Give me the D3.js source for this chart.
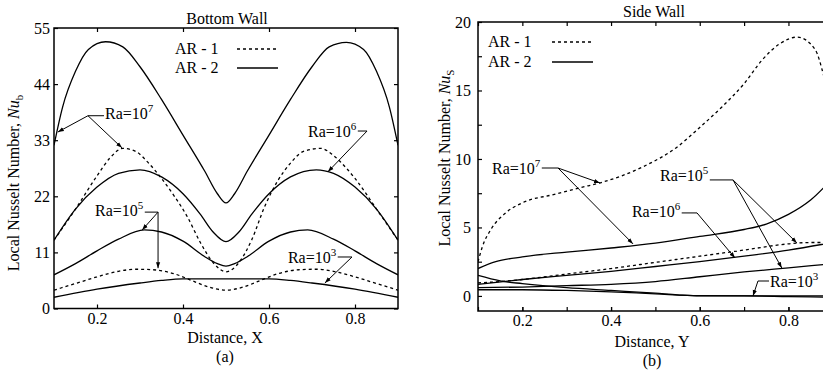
<!DOCTYPE html>
<html><head><meta charset="utf-8">
<script src="https://cdn.jsdelivr.net/npm/d3@7"></script>
<style>
body{margin:0;background:#fff;overflow:hidden}
text{font-family:"Liberation Serif","DejaVu Serif","Times New Roman",serif;fill:#000}
</style>
</head><body>
<svg id="c" width="823" height="370" xmlns="http://www.w3.org/2000/svg"></svg>
<script>
// ---------------- DATA ----------------
// Panel (a): Bottom wall, Local Nusselt number vs X
const bX_ra7_ar2 = [0.1,0.12,0.15,0.18,0.22,0.26,0.3,0.35,0.4,0.45,0.48,0.5,0.52,0.55,0.6,0.65,0.7,0.74,0.78,0.82,0.85,0.88,0.9];
const bY_ra7_ar2 = [32,39.5,46.5,50.8,52.3,51.3,47.4,41,34,27,22.5,20.7,22.5,27,34,41,47.4,51.3,52.2,50.8,46.5,39.5,32];

const bX_ra7_ar1 = [0.1,0.15,0.2,0.23,0.26,0.29,0.32,0.35,0.38,0.41,0.44,0.47,0.5,0.53,0.56,0.59,0.62,0.65,0.68,0.72,0.75,0.78,0.8,0.85,0.9];
const bY_ra7_ar1 = [13.4,19.5,26,29.5,31.4,30.8,28.5,25.5,22,18,13,9,7.2,9,13.5,20,25,28.5,30.8,31.4,30,27.5,25.5,19.5,13.4];

const bX_ra6_ar2 = [0.1,0.15,0.2,0.25,0.3,0.35,0.4,0.44,0.47,0.5,0.53,0.56,0.6,0.65,0.71,0.75,0.8,0.85,0.9];
const bY_ra6_ar2 = [13.4,19.5,23.8,26.5,27.2,25.8,22.5,18.5,15,13.1,15,18.5,22.5,25.8,27.2,26.5,23.8,19.5,13.4];

const bX_ra5_ar2 = [0.1,0.15,0.2,0.25,0.31,0.35,0.4,0.45,0.48,0.5,0.52,0.55,0.6,0.65,0.69,0.75,0.8,0.85,0.9];
const bY_ra5_ar2 = [6.6,8.8,11.3,13.6,15.4,15.0,13.2,10.2,8.8,8.3,8.8,10.2,13.2,15.0,15.4,13.6,11.3,8.8,6.6];

const bX_ra5_ar1 = [0.1,0.15,0.2,0.25,0.29,0.33,0.38,0.42,0.46,0.5,0.54,0.58,0.62,0.67,0.71,0.75,0.8,0.85,0.9];
const bY_ra5_ar1 = [3.6,4.9,6.2,7.3,7.7,7.6,6.8,5.5,4.2,3.6,4.2,5.5,6.8,7.6,7.7,7.3,6.2,4.9,3.6];

const bX_ra3_ar2 = [0.1,0.2,0.3,0.35,0.4,0.5,0.6,0.65,0.7,0.8,0.9];
const bY_ra3_ar2 = [2.2,3.8,5.0,5.5,5.8,5.8,5.8,5.5,5.0,3.8,2.2];

// Panel (b): Side wall, Local Nusselt number vs Y
const sX_ra7_ar1 = [0.1,0.11,0.13,0.16,0.2,0.27,0.33,0.38,0.47,0.55,0.6,0.65,0.7,0.74,0.78,0.82,0.86,0.88,0.9];
const sY_ra7_ar1 = [2.5,3.6,4.9,6.0,6.8,7.4,7.9,8.3,9.4,10.9,12.3,13.8,15.5,17.2,18.4,18.9,18.0,16.0,13.0];

const sX_ra7_ar2 = [0.1,0.14,0.2,0.3,0.4,0.5,0.6,0.7,0.75,0.8,0.85,0.9];
const sY_ra7_ar2 = [2.0,2.5,2.85,3.2,3.5,3.85,4.35,4.85,5.25,5.95,7.0,8.6];

const sX_ra5_ar1 = [0.1,0.15,0.2,0.3,0.4,0.5,0.6,0.7,0.8,0.85,0.9];
const sY_ra5_ar1 = [0.95,1.05,1.2,1.6,2.0,2.45,2.9,3.35,3.8,3.9,3.9];

const sX_ra6_ar2 = [0.1,0.2,0.3,0.4,0.5,0.6,0.7,0.8,0.9];
const sY_ra6_ar2 = [0.85,1.2,1.5,1.8,2.15,2.5,2.9,3.35,3.9];

const sX_ra5_ar2 = [0.1,0.2,0.3,0.4,0.5,0.6,0.7,0.8,0.9];
const sY_ra5_ar2 = [0.6,0.65,0.75,0.85,1.05,1.4,1.75,2.05,2.35];

const sX_ra3_a = [0.1,0.15,0.2,0.3,0.4,0.5,0.55,0.6,0.7,0.8,0.9];
const sY_ra3_a = [1.5,1.1,0.9,0.6,0.4,0.2,0.08,0.0,0.0,-0.05,-0.1];

const sX_ra3_b = [0.1,0.2,0.3,0.4,0.5,0.6,0.9];
const sY_ra3_b = [0.45,0.45,0.4,0.3,0.15,0.02,0.0];

// Axis ticks
const bTickX = [0.2,0.4,0.6,0.8];
const bTickY = [0,11,22,33,44,55];
const sTickX = [0.2,0.4,0.6,0.8];
const sMinorX = [0.1,0.2,0.3,0.4,0.5,0.6,0.7,0.8,0.9];
const sTickY = [0,5,10,15,20];
const sMinorY = [2.5,7.5,12.5,17.5];

// Legend
const legendLabels = ["AR - 1","AR - 2"];

// Annotations (data coordinates): exponent, text anchor, elbow, arrow tips
const bNotes = [
  {exp:"7", text:[0.2186,37.2], elbow:[0.179,37.8], tips:[[0.109,34.6],[0.258,31.5]]},
  {exp:"6", text:[0.6907,33.6], elbow:[0.828,34.8], tips:[[0.737,26.8]]},
  {exp:"5", text:[0.1953,18.1], elbow:[0.342,18.9], tips:[[0.305,15.4],[0.342,7.9]]},
  {exp:"3", text:[0.644,8.9],  elbow:[0.793,10.1], tips:[[0.730,5.0]]}
];
const sNotes = [
  {exp:"7", text:[0.1316,8.9], elbow:[0.2804,9.34], tips:[[0.375,8.25],[0.4495,3.8]]},
  {exp:"5", text:[0.5104,8.4], elbow:[0.675,8.47], tips:[[0.819,3.87],[0.785,2.04]]},
  {exp:"6", text:[0.447,5.77], elbow:[0.5938,6.06], tips:[[0.6795,2.77]]},
  {exp:"3", text:[0.7584,0.66], elbow:[0.7313,1.09], tips:[[0.72,0.0]]}
];

// ---------------- DRAWING ----------------
const FONT = '"Liberation Serif","DejaVu Serif","Times New Roman",serif';
const svg = d3.select("#c");
const defs = svg.append("defs");
defs.append("marker").attr("id","arr").attr("viewBox","0 0 10 10")
  .attr("refX",10).attr("refY",5).attr("markerWidth",6).attr("markerHeight",6)
  .attr("markerUnits","userSpaceOnUse").attr("orient","auto")
  .append("path").attr("d","M0,1.5 L10,5 L0,8.5 z").attr("fill","#000");

function zip(xs, ys){ return xs.map((v,i)=>[v, ys[i]]); }

function drawPanel(cfg){
  const g = svg.append("g").attr("font-family",FONT);
  const x = d3.scaleLinear().domain([0.1,0.9]).range(cfg.xRange);
  const y = d3.scaleLinear().domain(cfg.yDomain).range(cfg.yRange);
  const [x0,x1] = cfg.xRange, [y0,y1] = cfg.yRange;

  const clipId = "clip"+cfg.id;
  defs.append("clipPath").attr("id",clipId).append("rect")
    .attr("x",x0).attr("y",y1).attr("width",x1-x0).attr("height",y0-y1);

  const line = d3.line().x(d=>x(d[0])).y(d=>y(d[1])).curve(d3.curveMonotoneX);
  const lg = g.append("g").attr("clip-path",`url(#${clipId})`);
  cfg.series.forEach(s=>{
    lg.append("path").attr("d",line(zip(s.x,s.y))).attr("fill","none")
      .attr("stroke","#000").attr("stroke-width",1.3)
      .attr("stroke-dasharray", s.dash ? "3,3" : null);
  });

  // axes
  const fmt = d3.format(".1f");
  g.append("g").attr("transform",`translate(0,${y0})`)
    .call(d3.axisBottom(x).tickValues(cfg.tickX).tickFormat(fmt).tickSize(-4).tickPadding(4));
  g.append("g").attr("transform",`translate(0,${y1})`)
    .call(d3.axisTop(x).tickValues(cfg.minorX || cfg.tickX).tickFormat("").tickSize(-4));
  if (cfg.minorX) g.append("g").attr("transform",`translate(0,${y0})`)
    .call(d3.axisBottom(x).tickValues(cfg.minorX).tickFormat("").tickSize(-4));
  g.append("g").attr("transform",`translate(${x0},0)`)
    .call(d3.axisLeft(y).tickValues(cfg.tickY).tickFormat(d3.format("d")).tickSize(-4).tickPadding(cfg.yPad));
  if (cfg.minorY) g.append("g").attr("transform",`translate(${x0},0)`)
    .call(d3.axisLeft(y).tickValues(cfg.minorY).tickFormat("").tickSize(-4));
  if (cfg.rightTicks) g.append("g").attr("transform",`translate(${x1},0)`)
    .call(d3.axisRight(y).tickValues(cfg.tickY).tickFormat("").tickSize(-4));
  g.selectAll(".domain").remove();
  g.selectAll(".tick line").attr("stroke","#000").attr("stroke-width",1.2);
  g.selectAll(".tick").select(function(){ return this.parentNode; }).attr("font-family",FONT);
  g.selectAll(".tick text").attr("font-family",FONT).attr("font-size",16).attr("fill","#000");

  // frame
  g.append("rect").attr("x",x0).attr("y",y1).attr("width",x1-x0).attr("height",y0-y1)
    .attr("fill","none").attr("stroke","#000").attr("stroke-width",1.5);

  // title & labels
  g.append("text").attr("x",cfg.titleX).attr("y",cfg.titleY).attr("text-anchor","middle")
    .attr("font-size",16).text(cfg.title);
  g.append("text").attr("x",cfg.xlabX).attr("y",cfg.xlabY).attr("text-anchor","middle")
    .attr("font-size",16).text(cfg.xlab);
  g.append("text").attr("x",cfg.xlabX).attr("y",cfg.subY).attr("text-anchor","middle")
    .attr("font-size",16).text(cfg.sub);
  const yl = g.append("text").attr("transform",`translate(${cfg.ylabX},${cfg.ylabY}) rotate(-90)`)
    .attr("text-anchor","middle").attr("font-size",16);
  yl.append("tspan").text("Local Nusselt Number, ");
  yl.append("tspan").attr("font-style","italic").text("Nu");
  yl.append("tspan").attr("font-size",11).attr("dy",4).text(cfg.ysub);

  // legend
  legendLabels.forEach((lab,i)=>{
    const ly = cfg.legY + i*cfg.legDy;
    g.append("text").attr("x",cfg.legX).attr("y",ly).attr("font-size",16).text(lab);
    g.append("line").attr("x1",cfg.legLX).attr("x2",cfg.legLX+41)
      .attr("y1",ly-5).attr("y2",ly-5).attr("stroke","#000").attr("stroke-width",1.3)
      .attr("stroke-dasharray", i===0 ? "3,3" : null);
  });

  // annotations
  cfg.notes.forEach(n=>{
    const tx = x(n.text[0]), ty = y(n.text[1]);
    const t = g.append("text").attr("x",tx).attr("y",ty).attr("font-size",16);
    t.append("tspan").text("Ra=10");
    t.append("tspan").attr("font-size",11).attr("dy",-7).text(n.exp);
    const bb = t.node().getBBox();
    const ex = x(n.elbow[0]), ey = y(n.elbow[1]);
    const sx = ex < tx ? tx - 1 : bb.x + bb.width + 1;
    g.append("line").attr("x1",sx).attr("y1",ey).attr("x2",ex).attr("y2",ey)
      .attr("stroke","#000").attr("stroke-width",1);
    n.tips.forEach(tp=>{
      g.append("line").attr("x1",ex).attr("y1",ey).attr("x2",x(tp[0])).attr("y2",y(tp[1]))
        .attr("stroke","#000").attr("stroke-width",1).attr("marker-end","url(#arr)");
    });
  });
}

drawPanel({
  id:"a", xRange:[54,398], yDomain:[0,55], yRange:[308.5,28],
  tickX:bTickX, tickY:bTickY, yPad:4, rightTicks:true,
  series:[
    {x:bX_ra7_ar2,y:bY_ra7_ar2,dash:false},
    {x:bX_ra7_ar1,y:bY_ra7_ar1,dash:true},
    {x:bX_ra6_ar2,y:bY_ra6_ar2,dash:false},
    {x:bX_ra5_ar2,y:bY_ra5_ar2,dash:false},
    {x:bX_ra5_ar1,y:bY_ra5_ar1,dash:true},
    {x:bX_ra3_ar2,y:bY_ra3_ar2,dash:false}
  ],
  title:"Bottom Wall", titleX:227, titleY:24,
  xlab:"Distance, X", xlabX:225, xlabY:343, sub:"(a)", subY:362,
  ylabX:19, ylabY:183, ysub:"b",
  legX:175, legY:54, legDy:19, legLX:237,
  notes:bNotes
});

drawPanel({
  id:"b", xRange:[478,832.8], yDomain:[-1.1,20], yRange:[311,22],
  tickX:sTickX, minorX:sMinorX, tickY:sTickY, minorY:sMinorY, yPad:7, rightTicks:false,
  series:[
    {x:sX_ra7_ar1,y:sY_ra7_ar1,dash:true},
    {x:sX_ra7_ar2,y:sY_ra7_ar2,dash:false},
    {x:sX_ra5_ar1,y:sY_ra5_ar1,dash:true},
    {x:sX_ra6_ar2,y:sY_ra6_ar2,dash:false},
    {x:sX_ra5_ar2,y:sY_ra5_ar2,dash:false},
    {x:sX_ra3_a,y:sY_ra3_a,dash:false},
    {x:sX_ra3_b,y:sY_ra3_b,dash:false}
  ],
  title:"Side Wall", titleX:654, titleY:17,
  xlab:"Distance, Y", xlabX:652, xlabY:347, sub:"(b)", subY:366,
  ylabX:450, ylabY:158, ysub:"S",
  legX:488, legY:47, legDy:20, legLX:552,
  notes:sNotes
});
</script>
</body></html>
